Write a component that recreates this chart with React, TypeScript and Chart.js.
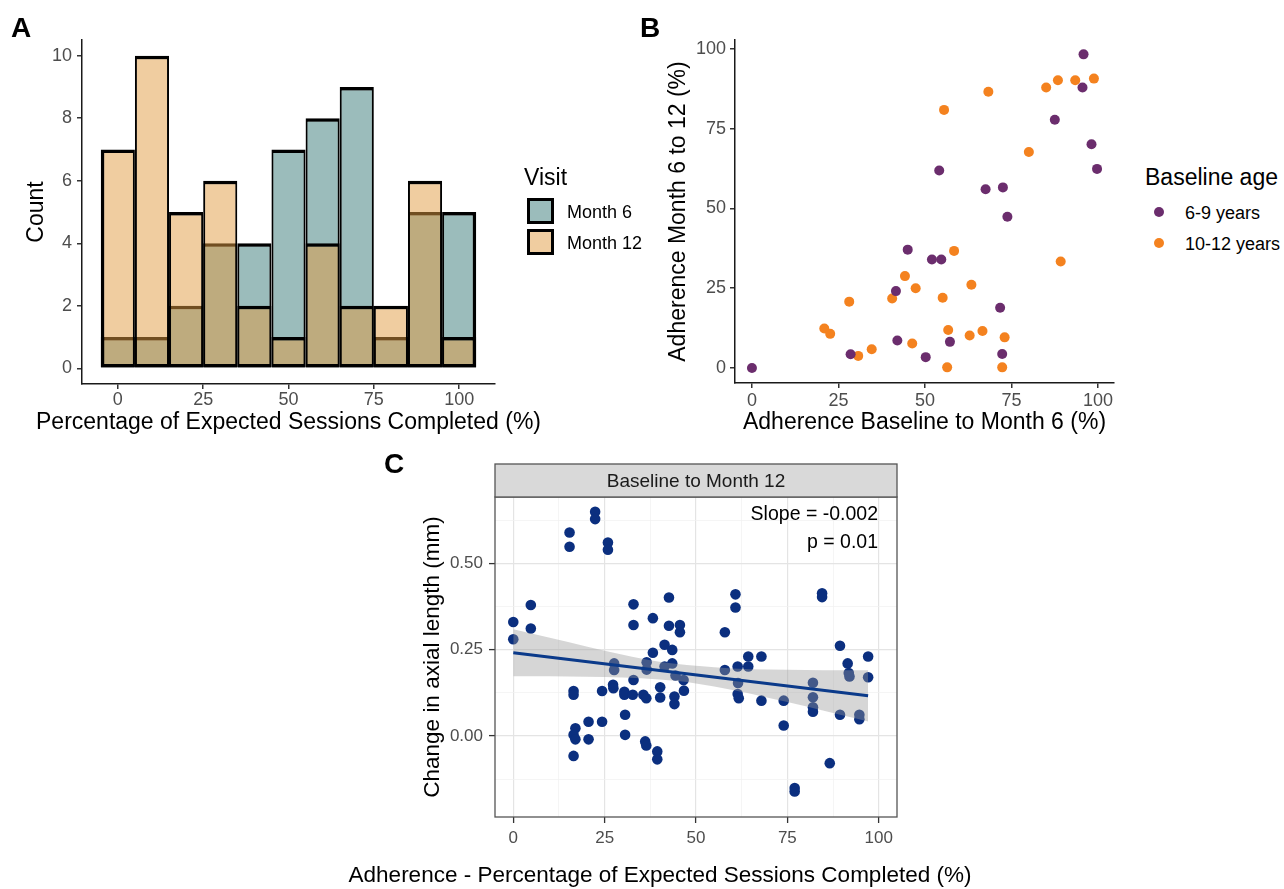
import React, { useEffect, useRef } from 'react';
import { Chart, registerables } from 'chart.js';

Chart.register(...registerables);

const FONT = "'Liberation Sans', Arial, Helvetica, sans-serif";
Chart.defaults.font.family = FONT;
Chart.defaults.color = '#000';

// ---------- Panel A: histogram ----------
const binCenters = [0, 10, 20, 30, 40, 50, 60, 70, 80, 90, 100];
const month6Counts = [1, 1, 2, 4, 4, 7, 8, 9, 1, 5, 5];
const month12Counts = [7, 10, 5, 6, 2, 1, 4, 2, 2, 6, 1];
const histXTicks = [0, 25, 50, 75, 100];
const histYTicks = [0, 2, 4, 6, 8, 10];
const visitLabels = ['Month 6', 'Month 12'];

// ---------- Panel B: scatter by age ----------
const age69X = [0, 28.5, 41.6, 42, 45, 50.2, 52, 54.7, 54.1, 57.2, 95.8, 95.5, 87.5, 98.1, 99.7, 67.5, 72.5, 73.8, 71.7, 72.3];
const age69Y = [0, 4.3, 24.1, 8.6, 37.1, 3.4, 34, 34, 61.9, 8.2, 98.3, 87.9, 77.8, 70.1, 62.4, 56, 56.6, 47.4, 18.9, 4.4];
const age1012X = [28.1, 20.9, 22.6, 30.7, 34.6, 40.5, 44.2, 47.3, 46.3, 55.5, 58.4, 55.1, 56.7, 56.4, 68.3, 85, 88.4, 93.4, 98.8, 80, 89.2, 63.4, 62.9, 66.6, 73, 72.3];
const age1012Y = [20.8, 12.4, 10.7, 3.8, 5.9, 21.8, 28.8, 25, 7.7, 80.9, 36.7, 22, 11.9, 0.2, 86.6, 87.9, 90.2, 90.2, 90.7, 67.7, 33.4, 26.1, 10.2, 11.6, 9.6, 0.2];
const scatterTicks = [0, 25, 50, 75, 100];
const ageLabels = ['6-9 years', '10-12 years'];

// ---------- Panel C: axial length change ----------
const cX = [
  15.4, 15.4, 22.4, 22.4, 25.9, 25.9,
  0, 0, 4.8, 4.8,
  32.9, 32.9, 38.2, 42.6, 42.6, 45.6, 45.6, 38.2, 41.4, 43.5,
  27.6, 27.6, 36.5, 36.5, 41.4, 43.5, 44.4, 46.6, 32.9,
  16.5, 16.5, 24.3, 27.3, 27.4, 30.4, 30.4, 32.7, 35.6, 36.4, 40.2, 40.2, 44.1, 44.1, 46.7,
  30.6, 17, 20.6, 24.3, 16.5, 17, 20.6, 30.6, 16.5, 36.1, 36.4, 39.4, 39.4,
  57.9, 60.8, 60.8, 64.3, 67.9, 61.4, 64.3, 57.9, 61.5, 61.4, 61.7, 67.9, 74, 74,
  84.5, 84.5, 82, 82, 82, 82, 89.4, 91.5, 91.8, 92, 97.1, 97.1, 89.4, 94.7, 94.7, 86.6, 77, 77,
];
const cY = [
  0.589, 0.548, 0.649, 0.628, 0.56, 0.539,
  0.33, 0.28, 0.379, 0.311,
  0.381, 0.321, 0.341, 0.401, 0.319, 0.321, 0.3, 0.241, 0.264, 0.249,
  0.21, 0.191, 0.213, 0.192, 0.201, 0.21, 0.175, 0.162, 0.162,
  0.13, 0.119, 0.13, 0.148, 0.138, 0.128, 0.119, 0.119, 0.119, 0.109, 0.141, 0.111, 0.114, 0.092, 0.131,
  0.061, 0.022, 0.041, 0.041, 0.003, -0.01, -0.01, 0.003, -0.058, -0.016, -0.028, -0.045, -0.068,
  0.3, 0.41, 0.372, 0.23, 0.23, 0.201, 0.201, 0.191, 0.153, 0.121, 0.109, 0.102, 0.102, 0.03,
  0.413, 0.402, 0.154, 0.112, 0.083, 0.07, 0.261, 0.21, 0.182, 0.172, 0.23, 0.17, 0.061, 0.061, 0.048, -0.079, -0.151, -0.161,
];
const fitX = [0, 97.1];
const fitY = [0.241, 0.116];
const bandX = [0, 10, 20, 30, 40, 50, 60, 70, 80, 90, 97.1];
const bandUpper = [0.309, 0.284, 0.259, 0.235, 0.215, 0.203, 0.195, 0.192, 0.191, 0.19, 0.19];
const bandLower = [0.173, 0.173, 0.171, 0.169, 0.163, 0.152, 0.133, 0.11, 0.086, 0.06, 0.042];
const cXMajor = [0, 25, 50, 75, 100];
const cXMinor = [12.5, 37.5, 62.5, 87.5];
const cYMajor = [0, 0.25, 0.5];
const cYMinor = [-0.125, 0.125, 0.375, 0.625];
const stripLabel = 'Baseline to Month 12';
const slopeText = 'Slope = -0.002';
const pText = 'p = 0.01';

const TEAL = 'rgba(55,121,119,0.5)';
const ORANGE_FILL = 'rgba(225,155,65,0.5)';
const PURPLE = '#6b2d6d';
const ORANGE = '#f4821f';
const NAVY = '#0b2f7f';

const isIn = (arr: number[], v: number) => arr.some((a) => Math.abs(a - v) < 1e-6);

// Draws a horizontal axis title without Chart.js's width squeeze.
function xTitlePlugin(id: string, text: string, size: number, cx: (c: any) => number, cy: number) {
  return {
    id,
    afterDraw(chart: any) {
      const ctx = chart.ctx;
      ctx.save();
      ctx.font = `${size}px ${FONT}`;
      ctx.fillStyle = '#000';
      ctx.textAlign = 'center';
      ctx.textBaseline = 'middle';
      ctx.fillText(text, cx(chart), cy);
      ctx.restore();
    },
  };
}

function classicScale(o: any) {
  return {
    type: 'linear',
    min: o.min,
    max: o.max,
    offset: false,
    afterFit: (s: any) => {
      if (o.width !== undefined) s.width = o.width;
      if (o.height !== undefined) s.height = o.height;
    },
    afterBuildTicks: (s: any) => {
      s.ticks = o.ticks.map((v: number) => ({ value: v }));
    },
    ticks: {
      autoSkip: false,
      maxRotation: 0,
      minRotation: 0,
      padding: o.tickPad,
      font: { size: 18 },
      color: '#4d4d4d',
      callback: (v: any) => String(v),
    },
    grid: {
      display: true,
      drawOnChartArea: false,
      drawTicks: true,
      tickLength: 5,
      tickColor: '#333',
      tickWidth: 1.5,
      lineWidth: 1.5,
      offset: false,
    },
    border: { display: true, color: '#1a1a1a', width: 1.5 },
    title: {
      display: !!o.title,
      text: o.title || '',
      font: { size: 23 },
      color: '#000',
      padding: o.titlePad,
    },
  };
}

function makeA(canvas: HTMLCanvasElement) {
  const last = binCenters.length - 1;
  const bw = (ctx: any) => ({
    top: 3.5,
    bottom: 3.5,
    left: ctx.dataIndex === 0 ? 3.5 : 2,
    right: ctx.dataIndex === last ? 3.5 : 2,
  });
  const common = {
    borderColor: '#000',
    borderWidth: bw,
    borderSkipped: false,
    inflateAmount: 0,
    grouped: false,
    barPercentage: 1,
    categoryPercentage: 1,
  };
  return new Chart(canvas, {
    type: 'bar',
    data: {
      datasets: [
        {
          label: visitLabels[0],
          data: binCenters.map((x, i) => ({ x, y: month6Counts[i] })),
          backgroundColor: TEAL,
          order: 2,
          ...common,
        } as any,
        {
          label: visitLabels[1],
          data: binCenters.map((x, i) => ({ x, y: month12Counts[i] })),
          backgroundColor: ORANGE_FILL,
          order: 1,
          ...common,
        } as any,
      ],
    },
    options: {
      responsive: false,
      animation: false,
      events: [],
      layout: { padding: { left: 0, top: 40, right: 65, bottom: 0 } },
      plugins: { legend: { display: false }, tooltip: { enabled: false } },
      scales: {
        x: classicScale({ min: -10.5, max: 110.5, ticks: histXTicks, height: 61, tickPad: 0 }),
        y: classicScale({
          min: -0.5, max: 10.5, ticks: histYTicks, width: 82, tickPad: 5,
          title: 'Count', titlePad: { top: 23, bottom: 0 },
        }),
      } as any,
    },
    plugins: [
      xTitlePlugin('aTitle', 'Percentage of Expected Sessions Completed (%)', 23,
        (c) => (c.chartArea.left + c.chartArea.right) / 2, 423),
    ],
  } as any);
}

function makeB(canvas: HTMLCanvasElement) {
  return new Chart(canvas, {
    type: 'scatter',
    data: {
      datasets: [
        {
          label: ageLabels[0],
          data: age69X.map((x, i) => ({ x, y: age69Y[i] })),
          backgroundColor: PURPLE,
          pointRadius: 5,
          borderWidth: 0,
        },
        {
          label: ageLabels[1],
          data: age1012X.map((x, i) => ({ x, y: age1012Y[i] })),
          backgroundColor: ORANGE,
          pointRadius: 5,
          borderWidth: 0,
        },
      ],
    },
    options: {
      responsive: false,
      animation: false,
      events: [],
      layout: { padding: { left: 0, top: 40, right: 16, bottom: 0 } },
      plugins: { legend: { display: false }, tooltip: { enabled: false } },
      scales: {
        x: classicScale({ min: -4.9, max: 104.6, ticks: scatterTicks, height: 62, tickPad: 2 }),
        y: classicScale({
          min: -4.7, max: 102.8, ticks: scatterTicks, width: 95, tickPad: 4,
          title: 'Adherence Month 6 to 12 (%)', titlePad: { top: 24.5, bottom: 0 },
        }),
      } as any,
    },
    plugins: [
      xTitlePlugin('bTitle', 'Adherence Baseline to Month 6 (%)', 23,
        (c) => (c.chartArea.left + c.chartArea.right) / 2, 423),
    ],
  } as any);
}

const panelCDecor = {
  id: 'panelCDecor',
  afterDraw(chart: any) {
    const { ctx, chartArea: a } = chart;
    const w = a.right - a.left;
    ctx.save();
    ctx.strokeStyle = '#555';
    ctx.lineWidth = 1.3;
    ctx.strokeRect(a.left, a.top, w, a.bottom - a.top);
    const stripH = 33;
    const st = a.top - stripH;
    ctx.fillStyle = '#d9d9d9';
    ctx.fillRect(a.left, st, w, stripH);
    ctx.strokeRect(a.left, st, w, stripH);
    ctx.fillStyle = '#1a1a1a';
    ctx.font = `19px ${FONT}`;
    ctx.textAlign = 'center';
    ctx.textBaseline = 'middle';
    ctx.fillText(stripLabel, (a.left + a.right) / 2, st + 17.5);
    ctx.fillStyle = '#000';
    ctx.font = `19.5px ${FONT}`;
    ctx.textAlign = 'right';
    ctx.fillText(slopeText, a.right - 19, a.top + 18);
    ctx.fillText(pText, a.right - 19, a.top + 46);
    ctx.restore();
  },
};

function bwScale(o: any) {
  return {
    type: 'linear',
    min: o.min,
    max: o.max,
    offset: false,
    afterFit: (s: any) => {
      if (o.width !== undefined) s.width = o.width;
      if (o.height !== undefined) s.height = o.height;
    },
    afterBuildTicks: (s: any) => {
      s.ticks = [...o.major, ...o.minor].sort((p: number, q: number) => p - q).map((v: number) => ({ value: v }));
    },
    ticks: {
      autoSkip: false,
      maxRotation: 0,
      minRotation: 0,
      padding: o.tickPad,
      font: { size: 17 },
      color: '#4d4d4d',
      callback: (v: any) => (isIn(o.major, v) ? o.fmt(v) : ''),
    },
    grid: {
      display: true,
      drawOnChartArea: true,
      drawTicks: true,
      tickLength: 6,
      tickWidth: 1.3,
      color: (c: any) => (c.tick && isIn(o.major, c.tick.value) ? '#e4e4e4' : '#f1f1f1'),
      lineWidth: (c: any) => (c.tick && isIn(o.major, c.tick.value) ? 1.2 : 0.7),
      tickColor: (c: any) => (c.tick && isIn(o.major, c.tick.value) ? '#333' : 'rgba(0,0,0,0)'),
      offset: false,
    },
    border: { display: false },
    title: {
      display: !!o.title,
      text: o.title || '',
      font: { size: 22.5 },
      color: '#000',
      padding: o.titlePad,
    },
  };
}

// Panel C canvas: page x 330..980, y 460..889
const C_LEFT = 330;
const C_TOP = 460;

function makeC(canvas: HTMLCanvasElement) {
  const transparent = 'rgba(0,0,0,0)';
  return new Chart(canvas, {
    type: 'scatter',
    data: {
      datasets: [
        {
          type: 'line',
          data: fitX.map((x, i) => ({ x, y: fitY[i] })),
          borderColor: '#0b3a8a',
          borderWidth: 3,
          pointRadius: 0,
          fill: false,
          order: 0,
        },
        {
          type: 'line',
          data: bandX.map((x, i) => ({ x, y: bandUpper[i] })),
          borderColor: transparent,
          borderWidth: 0,
          pointRadius: 0,
          fill: '+1',
          backgroundColor: 'rgba(153,153,153,0.4)',
          cubicInterpolationMode: 'monotone',
          order: 1,
        },
        {
          type: 'line',
          data: bandX.map((x, i) => ({ x, y: bandLower[i] })),
          borderColor: transparent,
          borderWidth: 0,
          pointRadius: 0,
          fill: false,
          cubicInterpolationMode: 'monotone',
          order: 2,
        },
        {
          type: 'scatter',
          data: cX.map((x, i) => ({ x, y: cY[i] })),
          backgroundColor: NAVY,
          pointRadius: 5.3,
          borderWidth: 0,
          order: 3,
        },
      ],
    },
    options: {
      responsive: false,
      animation: false,
      events: [],
      layout: { padding: { left: 0, top: 37, right: 980 - 897, bottom: 0 } },
      plugins: { legend: { display: false }, tooltip: { enabled: false } },
      scales: {
        x: bwScale({
          min: -5, max: 105, major: cXMajor, minor: cXMinor, height: 72, tickPad: 5,
          fmt: (v: number) => String(v),
        }),
        y: bwScale({
          min: -0.235, max: 0.692, major: cYMajor, minor: cYMinor, width: 495 - C_LEFT, tickPad: 6,
          fmt: (v: number) => v.toFixed(2),
          title: 'Change in axial length (mm)', titlePad: { top: 433 - C_LEFT - 13.5, bottom: 0 },
        }),
      } as any,
    },
    plugins: [
      panelCDecor,
      xTitlePlugin('cTitle', 'Adherence - Percentage of Expected Sessions Completed (%)', 22.5,
        () => 660 - C_LEFT, 876 - C_TOP),
    ],
  } as any);
}

function Txt(props: { left: number; top: number; size: number; lh: number; bold?: boolean; children: React.ReactNode }) {
  return (
    <div
      style={{
        position: 'absolute',
        left: props.left,
        top: props.top,
        fontSize: props.size,
        lineHeight: `${props.lh}px`,
        fontWeight: props.bold ? 700 : 400,
        whiteSpace: 'nowrap',
        color: '#000',
      }}
    >
      {props.children}
    </div>
  );
}

export default function App() {
  const aRef = useRef<HTMLCanvasElement>(null);
  const bRef = useRef<HTMLCanvasElement>(null);
  const cRef = useRef<HTMLCanvasElement>(null);

  useEffect(() => {
    const charts = [makeA(aRef.current!), makeB(bRef.current!), makeC(cRef.current!)];
    return () => charts.forEach((c) => c.destroy());
  }, []);

  const box = (left: number, top: number, bg: string) => (
    <div
      style={{
        position: 'absolute', left, top, width: 27, height: 26, boxSizing: 'border-box',
        border: '3px solid #000', background: bg,
      }}
    />
  );
  const dot = (cx: number, cy: number, bg: string) => (
    <div
      style={{
        position: 'absolute', left: cx - 5, top: cy - 5, width: 10, height: 10,
        borderRadius: '50%', background: bg,
      }}
    />
  );

  return (
    <div
      style={{
        position: 'absolute', left: 0, top: 0, width: 1284, height: 889,
        overflow: 'hidden', background: '#fff', fontFamily: FONT,
      }}
    >
      <canvas ref={aRef} width={560} height={445} style={{ position: 'absolute', left: 0, top: 0, display: 'block' }} />
      <canvas ref={bRef} width={490} height={445} style={{ position: 'absolute', left: 640, top: 0, display: 'block' }} />
      <canvas ref={cRef} width={650} height={429} style={{ position: 'absolute', left: C_LEFT, top: C_TOP, display: 'block' }} />

      <Txt left={11} top={13.6} size={28} lh={28} bold>A</Txt>
      <Txt left={640} top={13.6} size={28} lh={28} bold>B</Txt>
      <Txt left={384} top={450} size={28} lh={28} bold>C</Txt>

      {/* Legend A */}
      <Txt left={524} top={163} size={23} lh={28}>Visit</Txt>
      {box(527, 198, TEAL)}
      {box(527, 229, ORANGE_FILL)}
      <Txt left={567} top={201.2} size={18} lh={22}>{visitLabels[0]}</Txt>
      <Txt left={567} top={232.2} size={18} lh={22}>{visitLabels[1]}</Txt>

      {/* Legend B */}
      <Txt left={1145} top={162.5} size={23} lh={28}>Baseline age</Txt>
      {dot(1159, 212, PURPLE)}
      {dot(1159, 243, ORANGE)}
      <Txt left={1185} top={201.7} size={18} lh={22}>{ageLabels[0]}</Txt>
      <Txt left={1185} top={232.5} size={18} lh={22}>{ageLabels[1]}</Txt>
    </div>
  );
}
